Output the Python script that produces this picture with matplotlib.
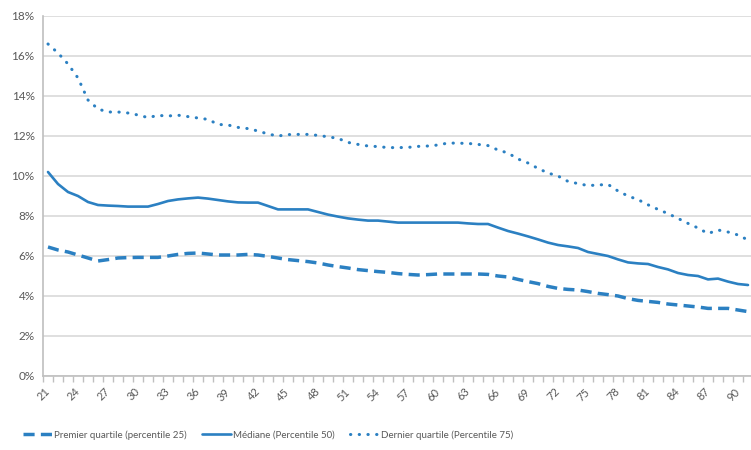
import matplotlib.pyplot as plt
from matplotlib.ticker import FixedLocator, PercentFormatter

plt.rcParams['font.family'] = ['Lato', 'DejaVu Sans']

ages = list(range(21, 92))

# premier quartile (percentile 25)
q1 = [6.45, 6.3, 6.2, 6.05, 5.9, 5.75, 5.82, 5.9, 5.92, 5.93,
      5.93, 5.93, 6.0, 6.08, 6.13, 6.15, 6.1, 6.05, 6.05, 6.05,
      6.08, 6.05, 5.98, 5.9, 5.82, 5.77, 5.72, 5.65, 5.55, 5.47,
      5.4, 5.32, 5.27, 5.22, 5.18, 5.12, 5.08, 5.05, 5.07, 5.1,
      5.1, 5.1, 5.1, 5.1, 5.08, 5.0, 4.95, 4.83, 4.72, 4.62,
      4.48, 4.38, 4.33, 4.3, 4.22, 4.13, 4.07, 4.0, 3.87, 3.78,
      3.73, 3.68, 3.6, 3.55, 3.5, 3.45, 3.38, 3.38, 3.38, 3.3,
      3.22]

# mediane (percentile 50)
med = [10.2, 9.6, 9.2, 9.0, 8.7, 8.55, 8.52, 8.5, 8.47, 8.47,
       8.47, 8.6, 8.75, 8.83, 8.88, 8.92, 8.87, 8.8, 8.73, 8.68,
       8.67, 8.67, 8.5, 8.33, 8.33, 8.33, 8.33, 8.2, 8.07, 7.97,
       7.88, 7.82, 7.77, 7.77, 7.72, 7.67, 7.67, 7.67, 7.67, 7.67,
       7.67, 7.67, 7.63, 7.6, 7.6, 7.42, 7.25, 7.12, 6.98, 6.83,
       6.67, 6.55, 6.48, 6.4, 6.2, 6.1, 6.0, 5.83, 5.68, 5.63,
       5.6, 5.45, 5.33, 5.15, 5.05, 5.0, 4.83, 4.87, 4.72, 4.6,
       4.55]

# dernier quartile (percentile 75)
q3 = [16.6, 16.15, 15.6, 14.9, 13.8, 13.35, 13.2, 13.2, 13.15, 13.05,
      12.92, 13.03, 13.0, 13.04, 12.97, 12.9, 12.83, 12.58, 12.55, 12.43,
      12.37, 12.25, 12.1, 12.0, 12.07, 12.08, 12.08, 12.03, 11.96, 11.88,
      11.68, 11.58, 11.5, 11.47, 11.42, 11.42, 11.43, 11.48, 11.5, 11.55,
      11.65, 11.64, 11.63, 11.58, 11.52, 11.3, 11.15, 10.85, 10.65, 10.38,
      10.15, 10.0, 9.73, 9.62, 9.52, 9.55, 9.58, 9.25, 9.0, 8.82,
      8.56, 8.33, 8.12, 7.88, 7.63, 7.4, 7.12, 7.3, 7.2, 7.05,
      6.8]

labels = ["Premier quartile (percentile 25)", "Médiane (Percentile 50)",
          "Dernier quartile (Percentile 75)"]

blue = '#2b80c2'
grey = '#595959'

fig = plt.figure(figsize=(7.51, 4.5), dpi=100)
ax = fig.add_axes([43 / 751, 74 / 450, 710 / 751, 360 / 450])

ax.plot(ages, q1, color=blue, lw=2.5, linestyle=(0, (3.2, 1.8)), label=labels[0])
ax.plot(ages, med, color=blue, lw=1.9, solid_capstyle='round', label=labels[1])
ax.plot(ages, q3, color=blue, lw=2.2, linestyle=(0, (0.1, 2.75)),
        dash_capstyle='round', label=labels[2])

ax.set_xlim(20.5, 91.5)
ax.set_ylim(0, 18)
ax.set_yticks(range(0, 19, 2))
ax.yaxis.set_major_formatter(PercentFormatter(decimals=0))
ax.grid(axis='y', color='#d9d9d9', lw=1.2)
ax.set_axisbelow(True)

ax.set_xticks(ages[::3])
ax.set_xticklabels([str(a) for a in ages[::3]], rotation=45,
                   rotation_mode='anchor', ha='right', va='center')
ax.xaxis.set_minor_locator(FixedLocator([a - 0.5 for a in ages] + [91.5]))
ax.tick_params(axis='x', which='major', length=0, pad=10, labelsize=8, labelcolor=grey)
ax.tick_params(axis='x', which='minor', length=4, color='#bfbfbf', width=1)
ax.tick_params(axis='y', length=0, pad=6, labelsize=8.5, labelcolor=grey)

for s in ['top', 'right']:
    ax.spines[s].set_visible(False)
for s in ['left', 'bottom']:
    ax.spines[s].set_color('#bfbfbf')
    ax.spines[s].set_linewidth(1.2)

fig.legend(loc='center left', bbox_to_anchor=(14 / 751, 15 / 450), ncol=3,
           frameon=False, fontsize=7, handlelength=3.0, handletextpad=0.25,
           columnspacing=1.5, labelcolor=grey)

fig.savefig('out.png', dpi=100)
